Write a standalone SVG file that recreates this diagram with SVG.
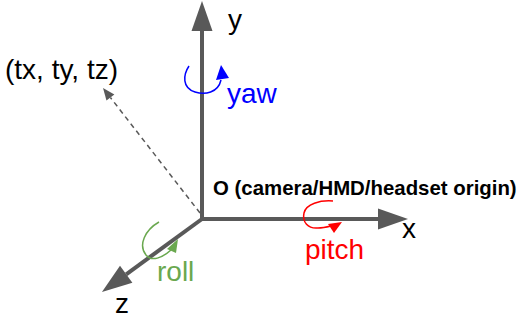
<svg xmlns="http://www.w3.org/2000/svg" width="519" height="322" viewBox="0 0 519 322">
<style>
.axis{stroke:#595959;stroke-width:4;fill:none}
.dash{stroke:#595959;stroke-width:1.5;stroke-dasharray:5 4;fill:none}
.lbl{font-family:"Liberation Sans",Arial,sans-serif;font-size:28px;fill:#000}
.bold{font-family:"Liberation Sans",Arial,sans-serif;font-size:20.4px;font-weight:bold;fill:#000}
.rot{fill:none;stroke-width:1.5}
</style>
<defs>
<marker id="ah" markerUnits="userSpaceOnUse" orient="auto" overflow="visible" markerWidth="30" markerHeight="22" refX="0" refY="0">
<path d="M0,-10.5 L30,0 L0,10.5 z" fill="#595959"/>
</marker>
<marker id="ahs" markerUnits="userSpaceOnUse" orient="auto" overflow="visible" markerWidth="12" markerHeight="10" refX="0" refY="0">
<path d="M0,-5 L12,0 L0,5 z" fill="#595959"/>
</marker>
</defs>
<rect width="519" height="322" fill="#fff"/>
<g id="connectors">
<line class="dash" x1="200" y1="213" x2="110.4" y2="97.5" marker-end="url(#ahs)"/>
<line class="axis" x1="202" y1="221" x2="202" y2="31" marker-end="url(#ah)"/>
<line class="axis" x1="200" y1="219" x2="378" y2="219" marker-end="url(#ah)"/>
<line class="axis" x1="202" y1="219" x2="126.2" y2="274.3" marker-end="url(#ah)"/>
</g>
<g id="y-label"><text class="lbl" x="228" y="29">y</text></g>
<g id="x-label"><text class="lbl" x="402" y="238">x</text></g>
<g id="z-label"><text class="lbl" x="115" y="313">z</text></g>
<g id="t-label"><text class="lbl" x="5" y="79">(tx, ty, tz)</text></g>
<g id="origin-label"><text class="bold" x="213" y="195">O (camera/HMD/headset origin)</text></g>
<g id="yaw">
<path class="rot" stroke="#0000ff" d="M189,66 C183,75 182,88 195,92 C205,95 218,93 221,80"/>
<polygon fill="#0000ff" points="221,65 216,80 229,78"/>
<text class="lbl" x="227" y="103" style="fill:#0000ff">yaw</text>
</g>
<g id="pitch">
<path class="rot" stroke="#ff0000" d="M333,201 C320,200 306,204 304,213 C302,222 308,229 318,228 C323,228 327,227 331,226"/>
<polygon fill="#ff0000" points="342,222 328,224 334,233"/>
<text class="lbl" x="305" y="259" style="fill:#ff0000">pitch</text>
</g>
<g id="roll">
<path class="rot" stroke="#6aa84f" d="M159,222 C145,230 138,245 146,255 C152,262 162,258 171,250"/>
<polygon fill="#6aa84f" points="178,239 167,249 176,253"/>
<text class="lbl" x="157" y="281" style="fill:#6aa84f">roll</text>
</g>
</svg>
